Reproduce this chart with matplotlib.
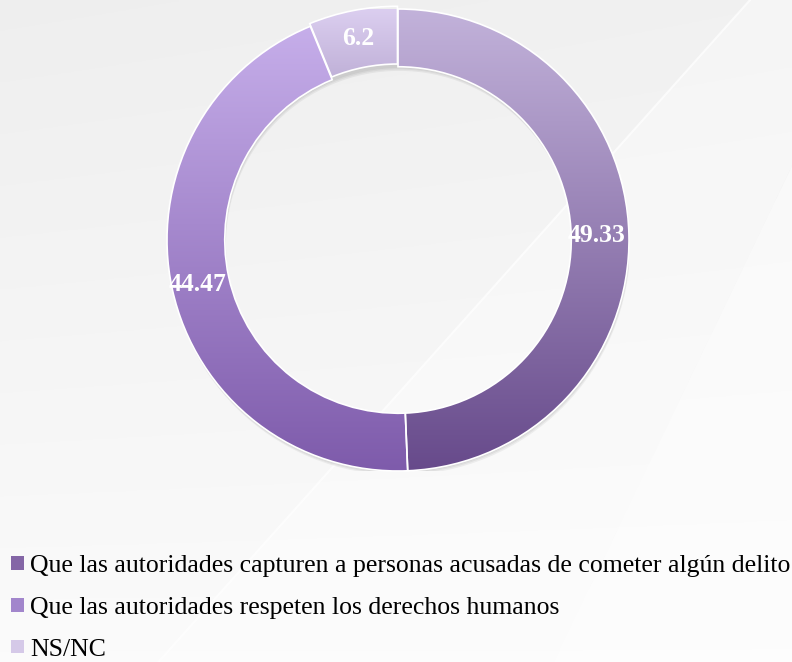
import numpy as np
import matplotlib.pyplot as plt
from matplotlib.colors import LinearSegmentedColormap
from matplotlib.patches import Patch, Polygon, Wedge

plt.rcParams['font.family'] = ['Liberation Serif', 'DejaVu Serif']

# Data
labels = ['Que las autoridades capturen a personas acusadas de cometer algún delito',
          'Que las autoridades respeten los derechos humanos',
          'NS/NC']
values = [49.33, 44.47, 6.2]
value_labels = ['49.33', '44.47', '6.2']
# gradient colours (top, bottom) per slice
grad_colors = [('#c2b2da', '#674a8b'),
               ('#c6aeea', '#7e5bab'),
               ('#ddd0f1', '#c0b1d8')]
legend_colors = ['#8466a6', '#a286cc', '#d5c9e8']

W, H = 792, 662
fig = plt.figure(figsize=(W / 100, H / 100), dpi=100)

# background
bg = fig.add_axes([0, 0, 1, 1], zorder=0)
yy = np.linspace(0, 1, 300)[:, None]   # 0 = bottom
xx = np.linspace(0, 1, 300)[None, :]
shade = 0.985 - 0.04 * yy - 0.01 * (1 - xx) * yy
shade = np.clip(shade, 0, 1)
bg.imshow(np.dstack([shade, shade, shade]), extent=(0, 1, 0, 1), aspect='auto', origin='lower')
bg.add_patch(Polygon([(0.20, 0), (0.70, 0), (1.0, 0.75), (1.0, 1.0), (0.947, 1.0)], closed=True,
                     facecolor='white', alpha=0.35, edgecolor='none'))
bg.add_patch(Polygon([(0.70, 0), (1.0, 0), (1.0, 0.75)], closed=True,
                     facecolor='white', alpha=0.5, edgecolor='none'))
bg.plot([0.20, 0.947], [0.0, 1.0], color='white', lw=1.5, alpha=0.7)
bg.set_xlim(0, 1)
bg.set_ylim(0, 1)
bg.axis('off')

# donut
cx, cy, R = 398, 240, 231
ax = fig.add_axes([(cx - R) / W, (H - cy - R) / H, 2 * R / W, 2 * R / H], zorder=1)
ax.set_xlim(-1, 1)
ax.set_ylim(-1, 1)
ax.set_aspect('equal')
ax.axis('off')

width = 0.25
explode = [0, 0, 0.012]
wedges, _ = ax.pie(values, startangle=90, counterclock=False, radius=1,
                   wedgeprops=dict(width=width, edgecolor='white', linewidth=1.2),
                   explode=explode)

# soft shadow under the ring
for k in range(3):
    off = 0.006 * (k + 1)
    ax.add_patch(Wedge((off * 0.3, -off), 1.0, 0, 360, width=width,
                       facecolor='black', alpha=0.05, edgecolor='none', zorder=1))

grad = np.linspace(0, 1, 256)[:, None]
for w, (c_top, c_bot) in zip(wedges, grad_colors):
    ext = w.get_path().get_extents()
    cmap = LinearSegmentedColormap.from_list('g', [c_top, c_bot])
    ax.add_patch(Wedge(w.center, w.r, w.theta1, w.theta2, width=w.width,
                       facecolor='white', edgecolor='none', zorder=1.5))
    im = ax.imshow(grad, cmap=cmap, aspect='auto', origin='upper',
                   extent=(ext.x0, ext.x1, ext.y0, ext.y1), zorder=2)
    im.set_clip_path(w)
    w.set_facecolor('none')
    w.set_zorder(3)

label_r = [0.86, 0.89, 0.875]
for w, txt, r in zip(wedges, value_labels, label_r):
    ang = np.deg2rad((w.theta1 + w.theta2) / 2)
    ax.text(w.center[0] + r * np.cos(ang), w.center[1] + r * np.sin(ang), txt,
            ha='center', va='center', color='white', fontsize=18.5,
            fontweight='bold', zorder=5)

ax.set_xlim(-1, 1)
ax.set_ylim(-1, 1)

# legend
handles = [Patch(facecolor=c, edgecolor='none') for c in legend_colors]
fig.legend(handles, labels, loc='upper left', bbox_to_anchor=(11 / W, 1 - 555 / H),
           frameon=False, fontsize=18.5, handlelength=0.52, handleheight=0.45,
           handletextpad=0.22, labelspacing=0.77, borderpad=0, borderaxespad=0)

fig.savefig('out.png', dpi=100)
